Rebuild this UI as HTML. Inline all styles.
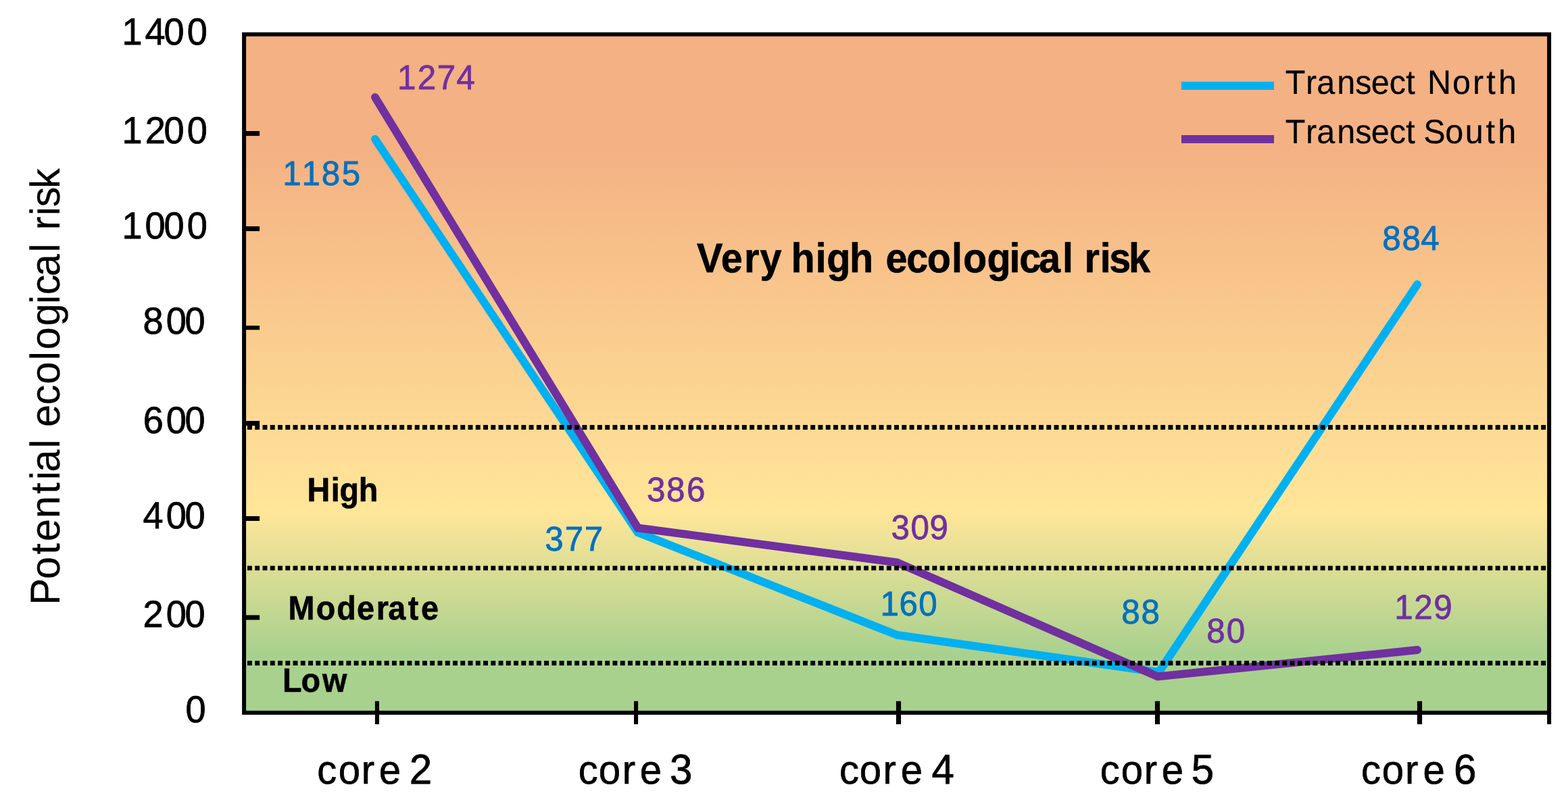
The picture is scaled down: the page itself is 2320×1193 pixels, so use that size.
<!DOCTYPE html>
<html lang="en">
<head>
<meta charset="utf-8">
<title>Potential ecological risk</title>
<style>
html,body{margin:0;padding:0;background:#fff;}
body{width:2320px;height:1193px;overflow:hidden;}
svg{display:block;}
text{font-family:"Liberation Sans",sans-serif;text-rendering:geometricPrecision;white-space:pre;}
</style>
</head>
<body>
<svg width="2320" height="1193" viewBox="0 0 2320 1193" role="img" aria-label="Potential ecological risk by core for Transect North and Transect South">
<defs>
<linearGradient id="bg" x1="0" y1="0" x2="0" y2="1">
<stop offset="0%" stop-color="#F4B183"/>
<stop offset="16.75%" stop-color="#F4B183"/>
<stop offset="70.33%" stop-color="#FFE699"/>
<stop offset="91.25%" stop-color="#A9D18E"/>
<stop offset="100%" stop-color="#A9D18E"/>
</linearGradient>
</defs>
<rect x="0" y="0" width="2320" height="1193" fill="#ffffff"/>
<rect x="361.1" y="50.85" width="1931" height="1004.05" fill="url(#bg)"/>
<g fill="#000" shape-rendering="auto">
<rect x="361.1" y="194" width="23" height="7.1"/>
<rect x="361.1" y="335" width="23" height="7.1"/>
<rect x="361.1" y="482" width="23" height="6.2"/>
<rect x="361.1" y="623" width="23" height="7.1"/>
<rect x="361.1" y="764.05" width="23" height="6.95"/>
<rect x="361.1" y="910.5" width="23" height="7"/>
<rect x="554.9" y="1037.8" width="6.1" height="34.2"/>
<rect x="938" y="1037.8" width="6.1" height="34.2"/>
<rect x="1325.9" y="1037.8" width="7.2" height="34.2"/>
<rect x="1708.9" y="1037.8" width="7.2" height="34.2"/>
<rect x="2096.9" y="1037.8" width="7.2" height="34.2"/>
<rect x="2289.1" y="1054.9" width="6" height="17.1"/>
</g>
<rect x="361.1" y="50.85" width="1931" height="1004.05" fill="none" stroke="#000" stroke-width="6" stroke-linejoin="miter"/>
<polyline points="555,206 943.7,788 1327.5,940 1714.6,995 2097,421" fill="none" stroke="#00B0F0" stroke-width="12" stroke-linecap="round" stroke-linejoin="miter"/>
<polyline points="555,144 943.7,781.4 1327.4,832.5 1713,1001.4 2097,962" fill="none" stroke="#7030A0" stroke-width="12" stroke-linecap="round" stroke-linejoin="miter"/>
<line x1="366" y1="632.5" x2="2287.4" y2="632.5" stroke="#000" stroke-width="6.8" stroke-dasharray="6.9 4.36"/>
<line x1="366" y1="840.9" x2="2287.4" y2="840.9" stroke="#000" stroke-width="6.8" stroke-dasharray="6.9 4.36"/>
<line x1="366" y1="981.5" x2="2287.4" y2="981.5" stroke="#000" stroke-width="6.8" stroke-dasharray="6.9 4.36"/>
<line x1="1748" y1="127" x2="1885" y2="127" stroke="#00B0F0" stroke-width="12"/>
<line x1="1748" y1="206" x2="1885" y2="206" stroke="#7030A0" stroke-width="12"/>
<text transform="translate(0 65.6) scale(0.97 1)" x="186.13 221.26 250.08 285.34" y="0" font-size="55.8" font-weight="normal" fill="#000" stroke="#000" stroke-width="0.8">1400</text>
<text transform="translate(0 211.7) scale(0.97 1)" x="186.13 221.29 250.08 285.34" y="0" font-size="55.8" font-weight="normal" fill="#000" stroke="#000" stroke-width="0.8">1200</text>
<text transform="translate(0 353) scale(0.97 1)" x="186.13 221.22 250.08 285.34" y="0" font-size="55.8" font-weight="normal" fill="#000" stroke="#000" stroke-width="0.8">1000</text>
<text transform="translate(0 493.7) scale(0.97 1)" x="218.08 253.41 282.07" y="0" font-size="55.8" font-weight="normal" fill="#000" stroke="#000" stroke-width="0.8">800</text>
<text transform="translate(0 640.8) scale(0.97 1)" x="218.23 253.41 282.07" y="0" font-size="55.8" font-weight="normal" fill="#000" stroke="#000" stroke-width="0.8">600</text>
<text transform="translate(0 782) scale(0.97 1)" x="218.06 253.41 282.07" y="0" font-size="55.8" font-weight="normal" fill="#000" stroke="#000" stroke-width="0.8">400</text>
<text transform="translate(0 928) scale(0.97 1)" x="218.08 253.41 282.07" y="0" font-size="55.8" font-weight="normal" fill="#000" stroke="#000" stroke-width="0.8">200</text>
<text transform="translate(0 1068.9) scale(0.97 1)" x="282.94" y="0" font-size="55.8" font-weight="normal" fill="#000" stroke="#000" stroke-width="0.8">0</text>
<text transform="translate(0 1159.5) scale(0.97 1)" x="483.87 516.36 551.41 578.21 612.69" y="0" font-size="59.9" font-weight="normal" fill="#000" stroke="#000" stroke-width="0.7">core <tspan x="624.62" font-size="62" stroke="#000" stroke-width="0.8">2</tspan></text>
<text transform="translate(0 1159.5) scale(0.97 1)" x="882.27 913.2 949.26 975.98 1010.46" y="0" font-size="59.9" font-weight="normal" fill="#000" stroke="#000" stroke-width="0.7">core <tspan x="1021.78" font-size="62" stroke="#000" stroke-width="0.8">3</tspan></text>
<text transform="translate(0 1159.5) scale(0.97 1)" x="1280.49 1311.02 1347 1374.06 1408.55" y="0" font-size="59.9" font-weight="normal" fill="#000" stroke="#000" stroke-width="0.7">core <tspan x="1421.08" font-size="62" stroke="#000" stroke-width="0.8">4</tspan></text>
<text transform="translate(0 1159.5) scale(0.97 1)" x="1678.08 1710.08 1745.06 1771.93 1806.41" y="0" font-size="59.9" font-weight="normal" fill="#000" stroke="#000" stroke-width="0.7">core <tspan x="1817.34" font-size="62" stroke="#000" stroke-width="0.8">5</tspan></text>
<text transform="translate(0 1159.5) scale(0.97 1)" x="2076.24 2107.92 2143.28 2170.7 2205.19" y="0" font-size="59.9" font-weight="normal" fill="#000" stroke="#000" stroke-width="0.7">core <tspan x="2217.53" font-size="62" stroke="#000" stroke-width="0.8">6</tspan></text>
<text transform="translate(0 132.2) scale(0.97 1)" x="606.21 636.85 666.77 696.24" y="0" font-size="50.9" font-weight="normal" fill="#7030A0" stroke="#7030A0" stroke-width="0.8">1274</text>
<text transform="translate(0 273.7) scale(0.97 1)" x="431.27 460.27 490.43 521.35" y="0" font-size="50.9" font-weight="normal" fill="#0070C0" stroke="#0070C0" stroke-width="0.8">1185</text>
<text transform="translate(0 741.7) scale(0.97 1)" x="986.62 1016.6 1047.41" y="0" font-size="50.9" font-weight="normal" fill="#7030A0" stroke="#7030A0" stroke-width="0.8">386</text>
<text transform="translate(0 814.6) scale(0.97 1)" x="831.25 861.73 891.53" y="0" font-size="50.9" font-weight="normal" fill="#0070C0" stroke="#0070C0" stroke-width="0.8">377</text>
<text transform="translate(0 797.8) scale(0.97 1)" x="1359.24 1389.22 1418.09" y="0" font-size="50.9" font-weight="normal" fill="#7030A0" stroke="#7030A0" stroke-width="0.8">309</text>
<text transform="translate(0 910.9) scale(0.97 1)" x="1342.79 1371.58 1401.41" y="0" font-size="50.9" font-weight="normal" fill="#0070C0" stroke="#0070C0" stroke-width="0.8">160</text>
<text transform="translate(0 922.6) scale(0.97 1)" x="1710.69 1740.75" y="0" font-size="50.9" font-weight="normal" fill="#0070C0" stroke="#0070C0" stroke-width="0.8">88</text>
<text transform="translate(0 950.8) scale(0.97 1)" x="1840.54 1870.87" y="0" font-size="50.9" font-weight="normal" fill="#7030A0" stroke="#7030A0" stroke-width="0.8">80</text>
<text transform="translate(0 370.1) scale(0.97 1)" x="2108.49 2138.56 2167.37" y="0" font-size="50.9" font-weight="normal" fill="#0070C0" stroke="#0070C0" stroke-width="0.8">884</text>
<text transform="translate(0 916.3) scale(0.97 1)" x="2127.12 2157.02 2186.89" y="0" font-size="50.9" font-weight="normal" fill="#7030A0" stroke="#7030A0" stroke-width="0.8">129</text>
<text transform="translate(0 741.9) scale(0.94 1)" x="483.47 520.94 534.53 564.57" y="0" font-size="49.7" font-weight="bold" fill="#000" stroke="#000" stroke-width="0.6">High</text>
<text transform="translate(0 916.5) scale(0.94 1)" x="453.79 497.5 529.97 561.74 592.19 610.98 642.17 662.85" y="0" font-size="49.7" font-weight="bold" fill="#000" stroke="#000" stroke-width="0.6">Moderate</text>
<text transform="translate(0 1023.6) scale(0.94 1)" x="444.68 473.98 507.44" y="0" font-size="49.7" font-weight="bold" fill="#000" stroke="#000" stroke-width="0.6">Low</text>
<text transform="translate(0 403.3) scale(0.94 1)" x="1096.89 1134.9 1171.16 1196.36 1230.39 1245.2 1283.91 1301.35 1337.22 1374.61 1394.23 1426.98 1459.27 1497.84 1515.95 1553.79 1588.78 1604.62 1635.22 1672.23 1689.23 1706.81 1731.65 1746.15 1776.57" y="0" font-size="61.2" font-weight="bold" fill="#000" stroke="#000" stroke-width="0.6">Very high ecological risk</text>
<text transform="translate(0 138.9) scale(0.97 1)" x="1960.67 1991.81 2008.46 2039.34 2067.29 2091.43 2119.4 2144.67 2158.56 2177.25 2215.35 2246.31 2267.22 2285.53" y="0" font-size="50" font-weight="normal" fill="#000" stroke="#000" stroke-width="0.2">Transect North</text>
<text transform="translate(0 212) scale(0.97 1)" x="1960.67 1991.81 2008.46 2039.34 2067.29 2091.43 2119.4 2144.67 2158.56 2171.52 2204.48 2234.74 2266.55 2284.82" y="0" font-size="50" font-weight="normal" fill="#000" stroke="#000" stroke-width="0.2">Transect South</text>
<text transform="translate(87.9 887.6) rotate(-90) scale(0.97 1)" x="-8.48 31.18 68.89 89.05 124.06 161.48 182.7 194.6 231.04 244.72 263.53 297.3 328.73 365.41 381.55 417.54 451.05 465.31 493.02 530.04 543.72 563.96 586 599.03 627.38" y="0" font-size="61.6" font-weight="normal" fill="#000" stroke="#000" stroke-width="0.2">Potential ecological risk</text>
</svg>
</body>
</html>
